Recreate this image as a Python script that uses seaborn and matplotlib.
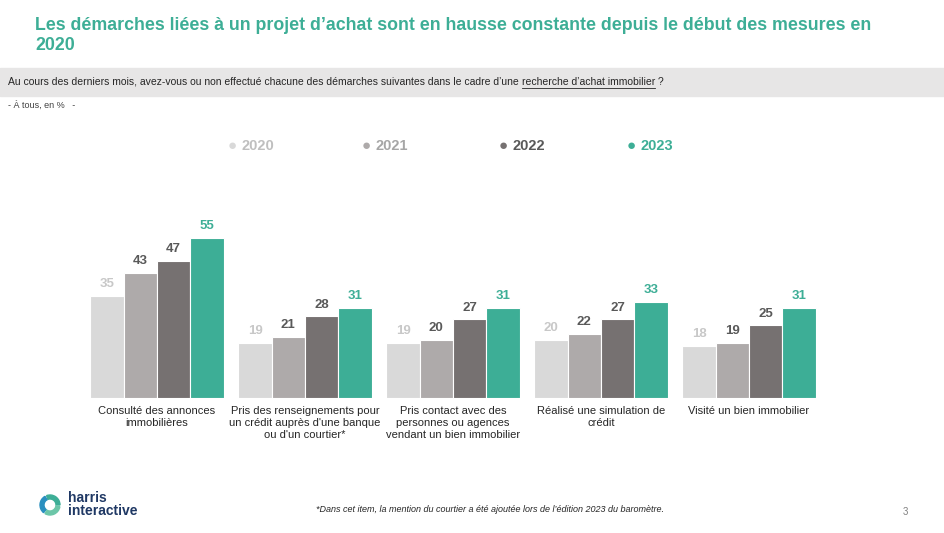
import matplotlib
matplotlib.use('agg')
import matplotlib.pyplot as plt
import seaborn as sns
import pandas as pd
from matplotlib.patches import Rectangle, Wedge

categories = ["Consulté des annonces\nimmobilières",
              "Pris des renseignements pour\nun crédit auprès d'une banque\nou d'un courtier*",
              "Pris contact avec des\npersonnes ou agences\nvendant un bien immobilier",
              "Réalisé une simulation de\ncrédit",
              "Visité un bien immobilier"]
years = ["2020", "2021", "2022", "2023"]
v2020 = [35, 19, 19, 20, 18]
v2021 = [43, 21, 20, 22, 19]
v2022 = [47, 28, 27, 27, 25]
v2023 = [55, 31, 31, 33, 31]

colors = ["#D9D9D9", "#AEAAAA", "#767171", "#3DAE96"]
label_colors = ["#C8C8C8", "#595959", "#595959", "#3DAE96"]
legend_text_colors = ["#BFBFBF", "#A6A6A6", "#595959", "#3DAE96"]
green = "#3DAE96"

rows = []
for y, vals in zip(years, [v2020, v2021, v2022, v2023]):
    for c, v in zip(categories, vals):
        rows.append({"cat": c, "year": y, "val": v})
df = pd.DataFrame(rows)

W, H = 945, 533
fig = plt.figure(figsize=(W / 100, H / 100), dpi=100)
plt.rcParams['font.family'] = ['Liberation Sans', 'DejaVu Sans']

fig.text(35 / W, 1 - 25 / H, "Les démarches liées à un projet d’achat sont en hausse constante depuis le début des mesures en",
         color=green, fontsize=12.8, fontweight='bold', va='center')
fig.text(35 / W, 1 - 46 / H, "2020", color=green, fontsize=12.8, fontweight='bold', va='center')
fig.patches.append(Rectangle((0, 1 - 96 / H), 1, 28 / H, transform=fig.transFigure, color="#E7E6E6", zorder=0))

r = fig.canvas.get_renderer()
q1 = fig.text(8 / W, 1 - 82 / H, "Au cours des derniers mois, avez-vous ou non effectué chacune des démarches suivantes dans le cadre d’une ",
              fontsize=7.5, color="#262626", va='center')
x1 = q1.get_window_extent(r).x1
q2 = fig.text(x1 / W, 1 - 82 / H, "recherche d’achat immobilier", fontsize=7.5, color="#262626", va='center')
x2 = q2.get_window_extent(r).x1
fig.lines.append(plt.Line2D([x1 / W, x2 / W], [1 - 88 / H] * 2, transform=fig.transFigure, color="#262626", lw=0.6))
fig.text(x2 / W, 1 - 82 / H, " ?", fontsize=7.5, color="#262626", va='center')
fig.text(8 / W, 1 - 105 / H, "- À tous, en %   -", fontsize=6.5, color="#404040", va='center')

# legend
for y, c, tc, xp in zip(years, colors, legend_text_colors, [232, 366, 503, 631]):
    fig.text(xp / W, 1 - 146 / H, "●", color=c, fontsize=11, va='center', ha='center')
    fig.text((xp + 10) / W, 1 - 146 / H, y, color=tc, fontsize=10.5, fontweight='bold', va='center')

left, right, base, top = 80, 830, 398, 194
ax = fig.add_axes([left / W, 1 - base / H, (right - left) / W, (base - top) / H])
sns.barplot(data=df, x="cat", y="val", hue="year", palette=colors, width=0.9, ax=ax,
            legend=False, saturation=1, edgecolor="white", linewidth=0.8)
ax.set_ylim(0, 70)
ax.set_xlim(-(157 - left) / 148, (right - 157) / 148)
for i, cont in enumerate(ax.containers):
    ax.bar_label(cont, padding=4, color=label_colors[i], fontsize=9.5, fontweight='bold')
ax.set_xlabel("")
ax.set_ylabel("")
ax.set_yticks([])
ax.tick_params(axis='x', length=0, labelsize=8, pad=6, labelcolor="#262626")
sns.despine(ax=ax, left=True, bottom=True)

# logo
for a0, col in [(0, "#3DAE96"), (120, "#2A8FBF"), (240, "#6CC6A8")]:
    fig.patches.append(Wedge((50, 28), 10, a0, a0 + 110, width=4, color=col, transform=None))
fig.text(68 / W, 1 - 498 / H, "harris", fontsize=10, fontweight='bold', color="#1F3864", va='center')
fig.text(68 / W, 1 - 511 / H, "interactive", fontsize=10, fontweight='bold', color="#1F3864", va='center')
fig.text(490 / W, 1 - 509 / H, "*Dans cet item, la mention du courtier a été ajoutée lors de l’édition 2023 du baromètre.",
         fontsize=6.5, style='italic', color="#262626", ha='center', va='center')
fig.text(905 / W, 1 - 512 / H, "3", fontsize=7, color="#808080", ha='center', va='center')

fig.savefig("out.png", dpi=100)
